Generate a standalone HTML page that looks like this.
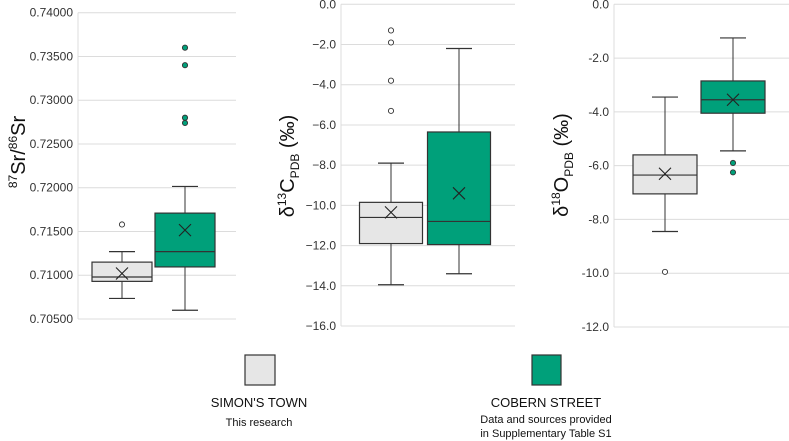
<!DOCTYPE html>
<html><head><meta charset="utf-8"><style>
body{margin:0;background:#fff;}
svg{display:block;font-family:"Liberation Sans",Arial,sans-serif;}
</style></head><body>
<svg id="c" width="789" height="441" viewBox="0 0 789 441"></svg>
<script>
const groups=["SIMON'S TOWN","COBERN STREET"];
const srStats=[[0.70735,0.70930,0.70980,0.71150,0.71270,0.71020],[0.70600,0.71095,0.71270,0.71710,0.72015,0.71515]];
const srOut=[[0.71580],[0.73600,0.73400,0.72800,0.72740]];
const srTicks=[0.74,0.735,0.73,0.725,0.72,0.715,0.71,0.705];
const cStats=[[-13.95,-11.9,-10.6,-9.85,-7.9,-10.35],[-13.4,-11.95,-10.8,-6.35,-2.2,-9.4]];
const cOut=[[-1.3,-1.9,-3.8,-5.3],[]];
const cTicks=[0,-2,-4,-6,-8,-10,-12,-14,-16];
const oStats=[[-8.45,-7.05,-6.35,-5.6,-3.45,-6.3],[-5.45,-4.05,-3.55,-2.85,-1.25,-3.55]];
const oOut=[[-9.95],[-5.9,-6.25]];
const oTicks=[0,-2,-4,-6,-8,-10,-12];

const svg=document.getElementById('c');
const NS='http://www.w3.org/2000/svg';
function mk(t,a,p){const e=document.createElementNS(NS,t);for(const k in a)e.setAttribute(k,a[k]);(p||svg).appendChild(e);return e;}
const fills=['#e6e6e6','#00a07a'];
const dotFill=['#ffffff','#00a07a'];
function panel(name,stats,outs,ticks,fmt,x0,x1,yTop,yBot,centers,bw){
  const g=mk('g',{});
  
  
  const vmax=ticks[0],vmin=ticks[ticks.length-1];
  const y=v=>yTop+(vmax-v)/(vmax-vmin)*(yBot-yTop);
  ticks.forEach(t=>{
    const l=mk('line',{x1:x0,x2:x1,y1:y(t),y2:y(t),stroke:'#dcdcdc','stroke-width':1},g);
    
    
    const tx=mk('text',{x:x0-5,y:y(t)+4,'text-anchor':'end','font-size':12,fill:'#333'},g);
    tx.textContent=fmt(t);
    
    
  });
  const ax=mk('line',{x1:x0,x2:x0,y1:yTop,y2:yBot,stroke:'#dcdcdc'},g);
  
  
  stats.forEach((s,i)=>{
    const cx=centers[i];
    const bg=mk('g',{},g);
    
    
    mk('line',{x1:cx,x2:cx,y1:y(s[0]),y2:y(s[1]),stroke:'#333'},bg);
    mk('line',{x1:cx,x2:cx,y1:y(s[3]),y2:y(s[4]),stroke:'#333'},bg);
    mk('line',{x1:cx-13,x2:cx+13,y1:y(s[0]),y2:y(s[0]),stroke:'#333','stroke-width':1.2},bg);
    mk('line',{x1:cx-13,x2:cx+13,y1:y(s[4]),y2:y(s[4]),stroke:'#333','stroke-width':1.2},bg);
    mk('rect',{x:cx-bw/2,y:y(s[3]),width:bw,height:y(s[1])-y(s[3]),fill:fills[i],stroke:'#333','stroke-width':1.2},bg);
    mk('line',{x1:cx-bw/2,x2:cx+bw/2,y1:y(s[2]),y2:y(s[2]),stroke:'#333','stroke-width':1.2},bg);
    const my=y(s[5]);
    mk('path',{d:`M${cx-6} ${my-6}L${cx+6} ${my+6}M${cx-6} ${my+6}L${cx+6} ${my-6}`,stroke:'#222','stroke-width':1.1},bg);
    outs[i].forEach(v=>{
      const c=mk('circle',{cx:cx,cy:y(v),r:2.6,fill:dotFill[i],stroke:'#333','stroke-width':0.9},bg);
      
      
    });
  });
}
panel('strontium',srStats,srOut,srTicks,t=>t.toFixed(5),78,236,12.7,319,[122,185],60);
panel('carbon',cStats,cOut,cTicks,t=>(t===0?'0.0':'\u2212'+Math.abs(t).toFixed(1)),341,515,4.3,326,[391,459],63);
panel('oxygen',oStats,oOut,oTicks,t=>(t===0?'0.0':'-'+Math.abs(t).toFixed(1)),614,789,4.3,327,[665,733],64);
</script>
<svg style="position:absolute;left:0;top:0" width="789" height="441">
<text transform="translate(25,152) rotate(-90)" text-anchor="middle" font-size="20" fill="#111" font-family="Liberation Sans,sans-serif"><tspan font-size="12" dy="-8">87</tspan><tspan dy="8">Sr/</tspan><tspan font-size="12" dy="-8">86</tspan><tspan dy="8">Sr</tspan></text>
<text transform="translate(294,166) rotate(-90)" text-anchor="middle" font-size="20" fill="#111" font-family="Liberation Sans,DejaVu Sans,sans-serif">δ<tspan font-size="12" dy="-8">13</tspan><tspan dy="8">C</tspan><tspan font-size="12" dy="5">PDB</tspan><tspan dy="-5"> (‰)</tspan></text>
<text transform="translate(568,165) rotate(-90)" text-anchor="middle" font-size="20" fill="#111" font-family="Liberation Sans,DejaVu Sans,sans-serif">δ<tspan font-size="12" dy="-8">18</tspan><tspan dy="8">O</tspan><tspan font-size="12" dy="5">PDB</tspan><tspan dy="-5"> (‰)</tspan></text>
<g font-family="Liberation Sans,sans-serif" fill="#111">
<rect x="245" y="355" width="30" height="30" fill="#e6e6e6" stroke="#333" stroke-width="1.2"/>
<text x="259" y="407" text-anchor="middle" font-size="13">SIMON'S TOWN</text>
<text x="259" y="426" text-anchor="middle" font-size="11">This research</text>
</g>
<g font-family="Liberation Sans,sans-serif" fill="#111">
<rect x="532" y="355" width="29" height="30" fill="#00a07a" stroke="#333" stroke-width="1.2"/>
<text x="546" y="407" text-anchor="middle" font-size="13">COBERN STREET</text>
<text x="546" y="423" text-anchor="middle" font-size="11">Data and sources provided</text>
<text x="546" y="437" text-anchor="middle" font-size="11">in Supplementary Table S1</text>
</g>
</svg>
</body></html>
